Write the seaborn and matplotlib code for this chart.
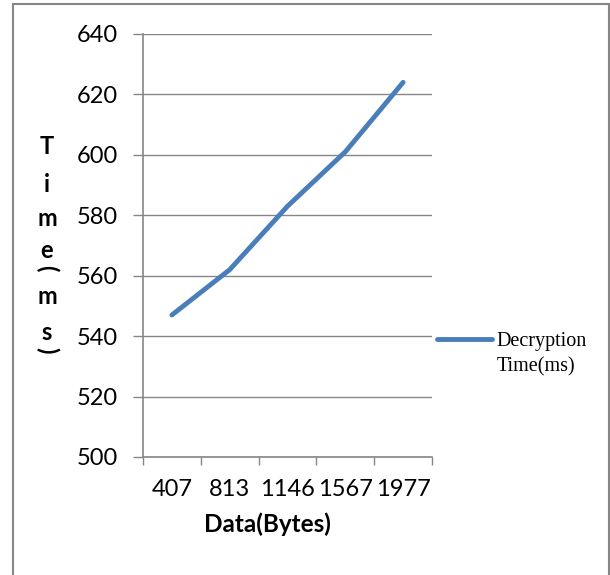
import numpy as np
import pandas as pd
import matplotlib.pyplot as plt
import seaborn as sns
from matplotlib.patches import Rectangle

# chart data
data_bytes = ["407", "813", "1146", "1567", "1977"]
decrypt_ms = [547, 562, 583, 601, 624]
series_name = "Decryption"
series_name2 = "Time(ms)"

df = pd.DataFrame({"Data(Bytes)": data_bytes, "Time(ms)": decrypt_ms})

sns.set_style("white")
plt.rcParams['font.family'] = ['Lato', 'DejaVu Sans']
plt.rcParams['text.color'] = 'black'
plt.rcParams['xtick.color'] = 'black'
plt.rcParams['ytick.color'] = 'black'
plt.rcParams['axes.labelcolor'] = 'black'

W, H = 610, 575
fig = plt.figure(figsize=(W / 100, H / 100), dpi=100)
ax = fig.add_axes([143 / W, 1 - 457 / H, (432 - 143) / W, (457 - 34) / H])

gray = "#868686"
sns.lineplot(data=df, x="Data(Bytes)", y="Time(ms)", ax=ax, color="#4A7EBB",
             linewidth=3.5, solid_capstyle="round", label=series_name)

# axes styling (excel look)
ax.set_ylim(500, 640)
ax.set_yticks(np.arange(500, 641, 20))
ax.set_xlim(-0.5, len(data_bytes) - 0.5)
ax.yaxis.grid(True, color=gray, linewidth=1)
ax.xaxis.grid(False)
for s in ["top", "right"]:
    ax.spines[s].set_visible(False)
for s in ["left", "bottom"]:
    ax.spines[s].set_color(gray)
    ax.spines[s].set_linewidth(1.2)

ax.tick_params(axis="y", which="major", direction="out", length=7, width=1,
               color=gray, pad=11, labelsize=17, left=True, labelcolor="black")
ax.set_xticks(np.arange(-0.5, len(data_bytes), 1.0), minor=True)
ax.tick_params(axis="x", which="major", length=0, pad=16, labelsize=17,
               labelcolor="black")
ax.tick_params(axis="x", which="minor", direction="out", length=6, width=1,
               color=gray, bottom=True)

ax.set_ylabel("")
ax.set_xlabel("Data(Bytes)", fontsize=17.5, fontweight="bold")
ax.xaxis.set_label_coords((267 - 143) / (432 - 143), (457 - 524) / (457 - 34))
ax.xaxis.label.set_va("center")

# stacked y label letters (parens turned sideways like excel)
ylabel_chars = [("T", 146, 0), ("i", 184, 0), ("m", 219, 0), ("e", 251, 0),
                ("(", 268, -90), ("m", 297, 0), ("s", 332, 0), (")", 350, -90)]
for ch, yp, rot in ylabel_chars:
    fig.text(47 / W, 1 - yp / H, ch, ha="center", va="center", fontsize=17,
             fontweight="bold", rotation=rot)

leg_font = {"family": "Liberation Serif", "size": 14.5}
leg = ax.legend(loc="center left", bbox_to_anchor=(437 / W, 1 - 341 / H),
                bbox_transform=fig.transFigure, frameon=False,
                borderaxespad=0, borderpad=0,
                handlelength=2.75, handletextpad=0.2, prop=leg_font)

# second line of the legend label sits under the first
fig.canvas.draw()
tb = leg.get_texts()[0].get_window_extent()
fig.text(tb.x0 / W, (tb.y0 - 26) / H, series_name2, ha="left", va="bottom",
         **{"family": leg_font["family"], "fontsize": leg_font["size"]})

# outer chart border
fig.patches.append(Rectangle((13 / W, -0.05), (609 - 13) / W, 1 - 4 / H + 0.05,
                             transform=fig.transFigure, fill=False,
                             edgecolor=gray, linewidth=1.5))

fig.savefig("out.png", dpi=100)
